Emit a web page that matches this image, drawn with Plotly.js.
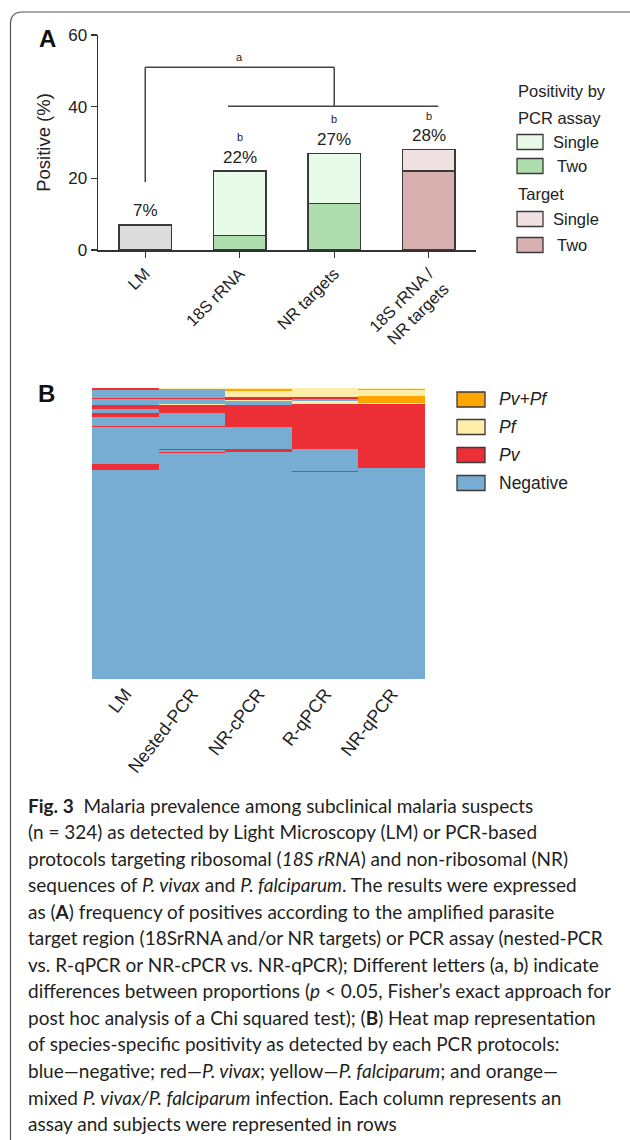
<!DOCTYPE html>
<html>
<head>
<meta charset="utf-8">
<script src="https://cdn.plot.ly/plotly-3.0.1.min.js"></script>
<style>html,body{margin:0;padding:0;background:#fff;}#chart{width:630px;height:1140px;}</style>
</head>
<body>
<div id="chart"></div>
<script>
// ---------- Panel A data ----------
const categoriesA = ['LM', '18S rRNA', 'NR targets', '18S rRNA /<br>NR targets'];
const lmPositive = [7];
const pcrCategories = ['18S rRNA', 'NR targets'];
const pcrTwo = [4, 13];
const pcrSingle = [18, 14];
const targetCategories = ['18S rRNA /<br>NR targets'];
const targetTwo = [22];
const targetSingle = [6];
const totalLabels = ['7%', '22%', '27%', '28%'];
const totalValues = [7, 22, 27, 28];
const letterLabels = ['', 'b', 'b', 'b'];

// ---------- Panel B data (runs of [code, number of subjects], top to bottom) ----------
// codes: 0 Negative, 1 Pv, 2 Pf, 3 Pv+Pf
const assays = ['LM', 'Nested-PCR', 'NR-cPCR', 'R-qPCR', 'NR-qPCR'];
const lmRuns = [[1,2],[0,9],[1,1],[0,7],[1,4],[0,5],[1,4],[0,10],[1,1],[0,1],[1,1],[0,40],[1,6],[0,233]];
const nestedRuns = [[2,1],[0,10],[1,1],[0,6],[2,1],[1,9],[0,14],[1,1],[0,25],[1,1],[0,2],[1,1],[0,252]];
const nrcRuns = [[2,1],[3,2],[2,7],[1,3],[2,2],[0,4],[1,24],[0,25],[1,3],[0,253]];
const rqRuns = [[2,10],[1,2],[0,3],[2,3],[1,50],[0,24],[1,1],[0,231]];
const nrqRuns = [[2,1],[3,1],[2,7],[3,8],[2,1],[1,71],[0,235]];
const legendB = ['<i>Pv+Pf</i>', '<i>Pf</i>', '<i>Pv</i>', 'Negative'];
const colorsB = ['#FFA500', '#FFEDAA', '#EC2E36', '#77ADD2'];

// ---------- build heatmap matrix ----------
function expand(runs){ const out=[]; runs.forEach(r=>{ for(let i=0;i<r[1];i++) out.push(r[0]); }); return out; }
const cols = [lmRuns, nestedRuns, nrcRuns, rqRuns, nrqRuns].map(expand);
const nRows = cols[0].length;
const z = []; const rowIdx = [];
for (let r=0; r<nRows; r++){ z.push(cols.map(c=>c[r])); rowIdx.push(r); }

const W = 630, H = 1140;
const px = x => x / W;
const py = y => 1 - y / H;
const FONT = 'Arial, "Liberation Sans", sans-serif';
const CAPFONT = 'Lato, "Open Sans", sans-serif';
const ink = '#222';

const barLine = {color: '#3a3a3a', width: 1.5};
const traces = [
  {type:'bar', x:['LM'], y:lmPositive, marker:{color:'#DCDCDC', line:barLine}, showlegend:false, hoverinfo:'skip', xaxis:'x', yaxis:'y'},
  {type:'bar', x:pcrCategories, y:pcrTwo, marker:{color:'#AEDEAE', line:barLine}, showlegend:false, hoverinfo:'skip', xaxis:'x', yaxis:'y'},
  {type:'bar', x:pcrCategories, y:pcrSingle, marker:{color:'#E8FBE8', line:barLine}, showlegend:false, hoverinfo:'skip', xaxis:'x', yaxis:'y'},
  {type:'bar', x:targetCategories, y:targetTwo, marker:{color:'#D9B0B0', line:barLine}, showlegend:false, hoverinfo:'skip', xaxis:'x', yaxis:'y'},
  {type:'bar', x:targetCategories, y:targetSingle, marker:{color:'#F1E1E1', line:barLine}, showlegend:false, hoverinfo:'skip', xaxis:'x', yaxis:'y'},
  {type:'heatmap', x:assays, y:rowIdx, z:z, zmin:0, zmax:3, showscale:false, hoverinfo:'skip',
   colorscale:[[0,colorsB[3]],[0.25,colorsB[3]],[0.25,colorsB[2]],[0.5,colorsB[2]],[0.5,colorsB[1]],[0.75,colorsB[1]],[0.75,colorsB[0]],[1,colorsB[0]]],
   xaxis:'x2', yaxis:'y2'}
];

const annotations = [];
const shapes = [];
// panel letters
annotations.push({xref:'paper', yref:'paper', x:px(37), y:py(39), xanchor:'left', yanchor:'middle', text:'<b>A</b>', showarrow:false, font:{family:FONT, size:24, color:'#111'}});
annotations.push({xref:'paper', yref:'paper', x:px(36), y:py(393), xanchor:'left', yanchor:'middle', text:'<b>B</b>', showarrow:false, font:{family:FONT, size:24, color:'#111'}});
// totals and letters above bars
categoriesA.forEach((c,i)=>{
  annotations.push({xref:'x', yref:'y', x:c, y:totalValues[i], yshift:14, yanchor:'middle', text:totalLabels[i], showarrow:false, font:{family:FONT, size:17, color:ink}});
  if (letterLabels[i]) annotations.push({xref:'x', yref:'y', x:c, y:totalValues[i], yshift:34, yanchor:'middle', text:letterLabels[i], showarrow:false, font:{family:FONT, size:11, color:ink}});
});
annotations.push({xref:'x', yref:'y', x:1.0, y:51, yshift:10, yanchor:'middle', text:'a', showarrow:false, font:{family:FONT, size:11, color:ink}});
// bracket
const br = {color:'#444', width:1.5};
shapes.push({type:'line', xref:'x', yref:'y', x0:0, y0:19, x1:0, y1:51, line:br});
shapes.push({type:'line', xref:'x', yref:'y', x0:0, y0:51, x1:2.0, y1:51, line:br});
shapes.push({type:'line', xref:'x', yref:'y', x0:2.0, y0:51, x1:2.0, y1:40.1, line:br});
shapes.push({type:'line', xref:'x', yref:'y', x0:0.875, y0:40.1, x1:3.1, y1:40.1, line:br});

// legend A
const legA = [
  {t:'Positivity by', y:91, box:null},
  {t:'PCR assay', y:118, box:null},
  {t:'Single', y:142, box:'#E8FBE8'},
  {t:'Two', y:166, box:'#AEDEAE'},
  {t:'Target', y:194, box:null},
  {t:'Single', y:219, box:'#F1E1E1'},
  {t:'Two', y:245, box:'#D9B0B0'}
];
legA.forEach(it=>{
  if (it.box){
    shapes.push({type:'rect', xref:'paper', yref:'paper', x0:px(517), x1:px(543), y0:py(it.y-7.5), y1:py(it.y+7.5), fillcolor:it.box, line:{color:'#3a3a3a', width:1.3}});
    annotations.push({xref:'paper', yref:'paper', x:px(it.t==='Two'?555:551), y:py(it.y), xanchor:'left', yanchor:'middle', text:it.t, showarrow:false, font:{family:FONT, size:16.5, color:ink}});
  } else {
    annotations.push({xref:'paper', yref:'paper', x:px(516), y:py(it.y), xanchor:'left', yanchor:'middle', text:it.t, showarrow:false, font:{family:FONT, size:16.5, color:ink}});
  }
});
// legend B
const legBy = [399.5, 427, 455, 483];
legendB.forEach((t,i)=>{
  shapes.push({type:'rect', xref:'paper', yref:'paper', x0:px(457), x1:px(485), y0:py(legBy[i]-7.5), y1:py(legBy[i]+7.5), fillcolor:colorsB[i], line:{color:'#3a3a3a', width:1.3}});
  annotations.push({xref:'paper', yref:'paper', x:px(497), y:py(legBy[i]), xanchor:'left', yanchor:'middle', text:t, showarrow:false, font:{family:FONT, size:17.5, color:ink}});
});

// caption
const caption = [
  '<b>Fig. 3</b>  Malaria prevalence among subclinical malaria suspects',
  '(n = 324) as detected by Light Microscopy (LM) or PCR-based',
  'protocols targeting ribosomal (<i>18S rRNA</i>) and non-ribosomal (NR)',
  'sequences of <i>P. vivax</i> and <i>P. falciparum</i>. The results were expressed',
  'as (<b>A</b>) frequency of positives according to the amplified parasite',
  'target region (18SrRNA and/or NR targets) or PCR assay (nested-PCR',
  'vs. R-qPCR or NR-cPCR vs. NR-qPCR); Different letters (a, b) indicate',
  'differences between proportions (<i>p</i> &lt; 0.05, Fisher’s exact approach for',
  'post hoc analysis of a Chi squared test); (<b>B</b>) Heat map representation',
  'of species-specific positivity as detected by each PCR protocols:',
  'blue—negative; red—<i>P. vivax</i>; yellow—<i>P. falciparum</i>; and orange—',
  'mixed <i>P. vivax/P. falciparum</i> infection. Each column represents an',
  'assay and subjects were represented in rows'
];
caption.forEach((t,i)=>{
  annotations.push({xref:'paper', yref:'paper', x:px(26), y:py(805 + i*26.55), xanchor:'left', yanchor:'middle', text:t, showarrow:false, font:{family:CAPFONT, size:19, color:'#231f20'}});
});

// frame
shapes.push({type:'path', xref:'paper', yref:'paper',
  path:`M ${px(10.5)},${py(1150)} L ${px(10.5)},${py(24)} Q ${px(10.5)},${py(12)} ${px(22.5)},${py(12)} L ${px(640)},${py(12)}`,
  line:{color:'#555', width:1.2}});

const layout = {
  width: W, height: H,
  margin: {l:0, r:0, t:0, b:0},
  paper_bgcolor: '#fff', plot_bgcolor: 'rgba(0,0,0,0)',
  showlegend: false,
  barmode: 'stack', bargap: 0.444,
  font: {family: FONT, color: ink},
  xaxis: {domain:[px(98), px(476)], range:[-0.5, 3.5], type:'category', anchor:'y',
          showline:true, linecolor:'#333', linewidth:1.5, ticks:'outside', ticklen:6, tickwidth:1.3, tickcolor:'#333',
          tickangle:-45, tickfont:{family:FONT, size:16.5, color:ink}, showgrid:false, zeroline:false, fixedrange:true},
  yaxis: {domain:[py(250), py(35)], range:[0, 60], dtick:20, anchor:'x',
          showline:true, linecolor:'#333', linewidth:1.5, ticks:'outside', ticklen:6, tickwidth:1.3, tickcolor:'#333',
          tickfont:{family:FONT, size:17, color:ink}, showgrid:false, zeroline:false, fixedrange:true,
          title:{text:'Positive (%)', font:{family:FONT, size:18.5, color:ink}, standoff:12}},
  xaxis2: {domain:[px(92), px(425)], anchor:'y2', type:'category', showline:false, ticks:'', showgrid:false, zeroline:false,
           tickangle:-52, tickfont:{family:FONT, size:18, color:ink}, fixedrange:true},
  yaxis2: {domain:[py(679), py(388)], anchor:'x2', range:[nRows-0.5, -0.5], visible:false, fixedrange:true},
  annotations: annotations,
  shapes: shapes
};

Plotly.newPlot('chart', traces, layout, {staticPlot:true, displayModeBar:false});
</script>
</body>
</html>
